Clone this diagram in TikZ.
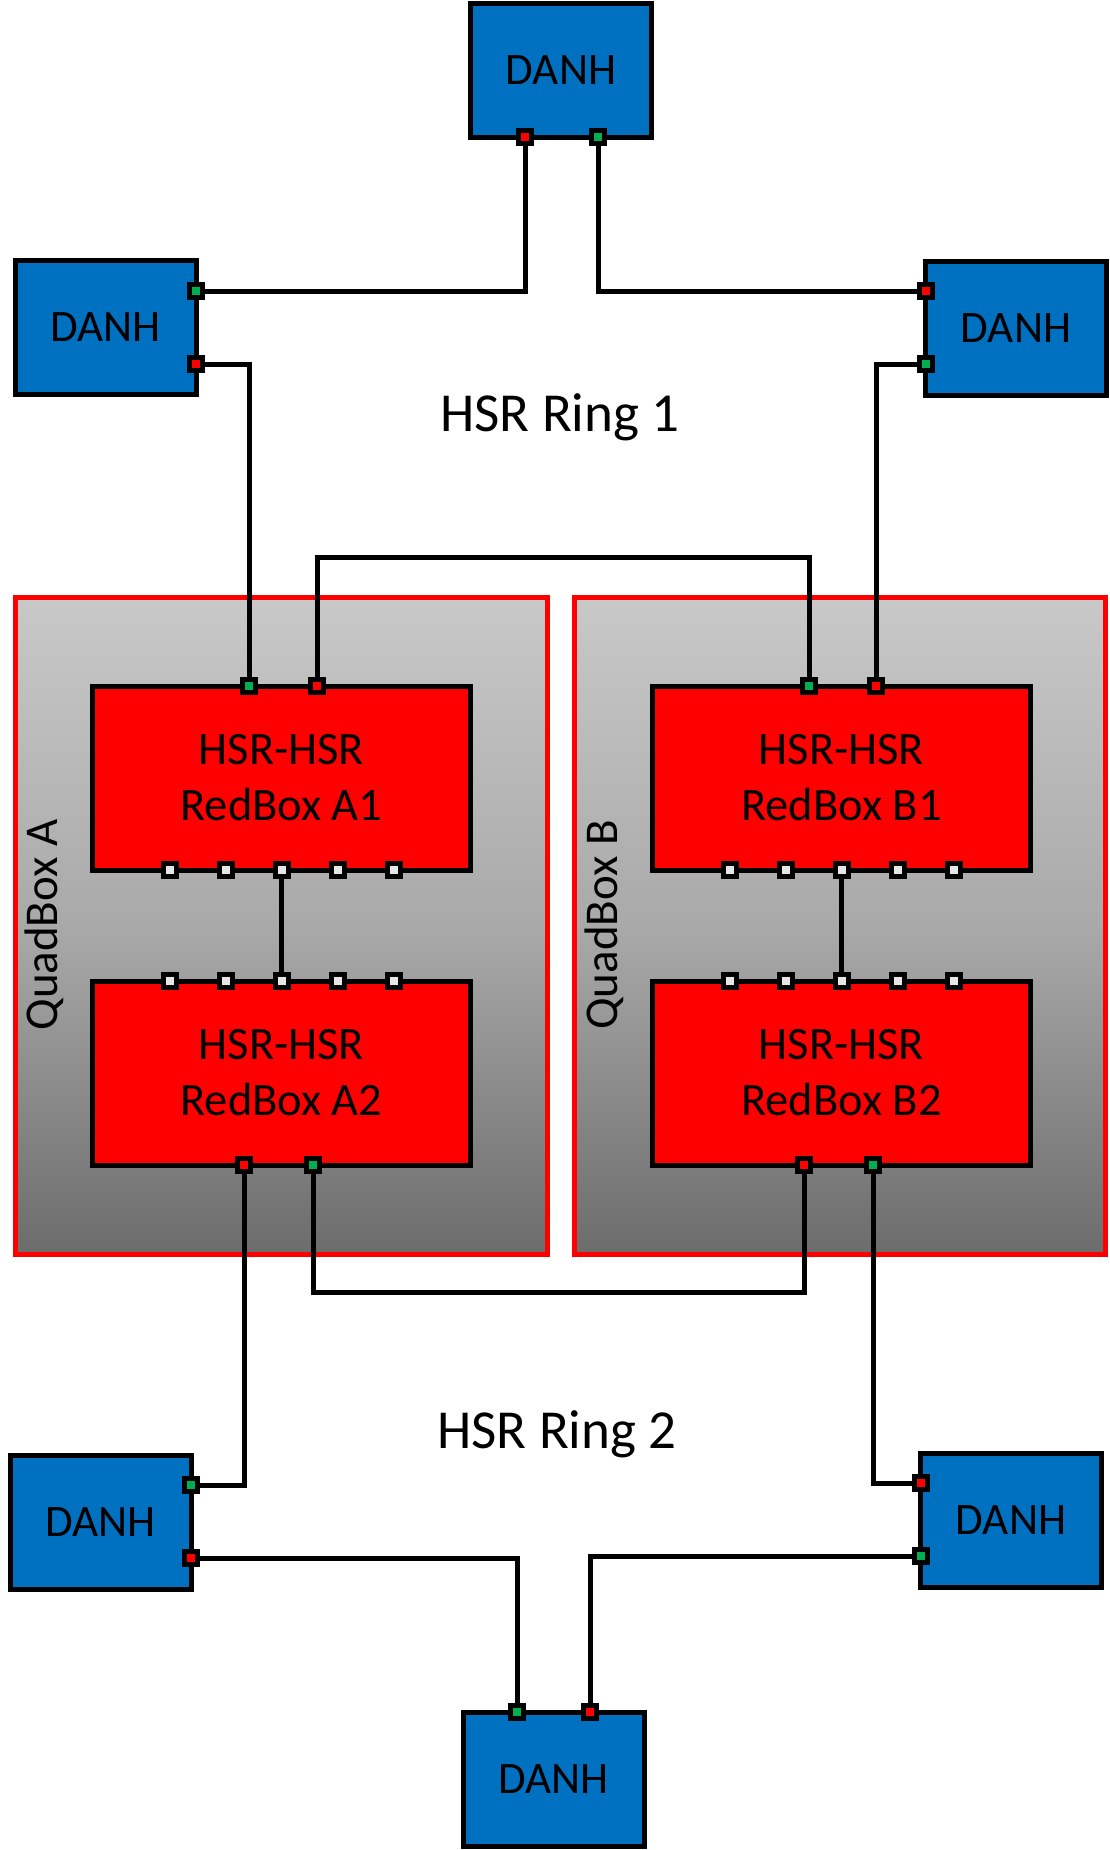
\documentclass[tikz,border=0pt]{standalone}
\usepackage{fontspec}
\setmainfont{Carlito}
\definecolor{danhblue}{HTML}{0070C0}
\definecolor{portgreen}{HTML}{00B050}
\definecolor{portwhite}{HTML}{E6E6E6}
\definecolor{quadtop}{HTML}{C8C8C8}
\definecolor{quadmid}{HTML}{A9A9A9}
\definecolor{quadbot}{HTML}{6C6C6C}
\pgfdeclarelayer{front}
\pgfsetlayers{main,front}
\begin{document}
\begin{tikzpicture}[x=1pt,y=-1pt,
  danh/.style={draw=black,line width=5pt,fill=danhblue,minimum width=181pt,minimum height=134pt,inner sep=0pt,font=\fontsize{45}{54}\selectfont},
  redbox/.style={draw=black,line width=5pt,fill=red,minimum width=378pt,minimum height=184pt,inner sep=0pt,align=center,font=\fontsize{46.5}{56}\selectfont},
  quad/.style={draw=red,line width=5pt,top color=quadtop,bottom color=quadbot,middle color=quadmid,minimum height=657pt,inner sep=0pt},
  port/.style={draw=black,line width=5pt,minimum size=13pt,inner sep=0pt,outer sep=0pt},
  rp/.style={port,fill=red},
  gp/.style={port,fill=portgreen},
  wp/.style={port,fill=portwhite},
  wire/.style={draw=black,line width=5pt},
  qlbl/.style={font=\fontsize{47}{56}\selectfont,rotate=90,inner sep=0pt},
  ring/.style={font=\fontsize{55}{66}\selectfont,inner sep=0pt,anchor=base}]
\useasboundingbox (0,0) rectangle (1110,1850);
% QuadBoxes
\node[quad,minimum width=532pt] (qa) at (281.5,926) {};
\node[quad,minimum width=531pt] (qb) at (840,926) {};
\node[qlbl] (qalbl) at (44,925) {QuadBox A};
\node[qlbl] (qblbl) at (604,925) {QuadBox B};
% DANH nodes
\node[danh] (d1) at (561,70) {DANH};
\node[danh] (d2) at (105.5,327.5) {DANH};
\node[danh] (d3) at (1016,328) {DANH};
\node[danh] (d4) at (100.5,1522.5) {DANH};
\node[danh] (d5) at (1011,1520) {DANH};
\node[danh] (d6) at (553.5,1779) {DANH};
% RedBoxes
\node[redbox] (a1) at (281.5,778) {HSR-HSR\\RedBox A1};
\node[redbox] (a2) at (281.5,1073) {HSR-HSR\\RedBox A2};
\node[redbox] (b1) at (841.5,778) {HSR-HSR\\RedBox B1};
\node[redbox] (b2) at (841.5,1073) {HSR-HSR\\RedBox B2};
% ring labels
\node[ring] (r1) at (560,431) {HSR Ring 1};
\node[ring] (r2) at (557,1448) {HSR Ring 2};
% ports
\begin{pgfonlayer}{front}
\node[rp] (d1r) at (525,137) {};
\node[gp] (d1g) at (598,137) {};
\node[gp] (d2g) at (196,291) {};
\node[rp] (d2r) at (196,364) {};
\node[rp] (d3r) at (925.5,291) {};
\node[gp] (d3g) at (925.5,364) {};
\node[gp] (d4g) at (191,1485) {};
\node[rp] (d4r) at (191,1558) {};
\node[rp] (d5r) at (920.5,1483) {};
\node[gp] (d5g) at (920.5,1556) {};
\node[gp] (d6g) at (517,1712) {};
\node[rp] (d6r) at (590,1712) {};
\node[gp] (a1g) at (249,686) {};
\node[rp] (a1r) at (317,686) {};
\node[gp] (b1g) at (809,686) {};
\node[rp] (b1r) at (876,686) {};
\node[rp] (a2r) at (244,1165) {};
\node[gp] (a2g) at (313,1165) {};
\node[rp] (b2r) at (804,1165) {};
\node[gp] (b2g) at (873,1165) {};
\foreach \i/\dx in {1/-112,2/-56,3/0,4/56,5/112}{
  \node[wp] (a1w\i) at (281.5+\dx,870) {};
  \node[wp] (a2w\i) at (281.5+\dx,981) {};
  \node[wp] (b1w\i) at (841.5+\dx,870) {};
  \node[wp] (b2w\i) at (841.5+\dx,981) {};
}
\end{pgfonlayer}
\coordinate (topbar) at (0,557);
\coordinate (botbar) at (0,1292);
% wires
\draw[wire] (d1r) |- (d2g);
\draw[wire] (d1g) |- (d3r);
\draw[wire] (d2r) -| (a1g);
\draw[wire] (d3g) -| (b1r);
\draw[wire] (a1r) -- (a1r |- topbar) -| (b1g);
\draw[wire] (a1w3) -- (a2w3);
\draw[wire] (b1w3) -- (b2w3);
\draw[wire] (a2g) -- (a2g |- botbar) -| (b2r);
\draw[wire] (a2r) |- (d4g);
\draw[wire] (b2g) |- (d5r);
\draw[wire] (d4r) -| (d6g);
\draw[wire] (d5g) -| (d6r);
\end{tikzpicture}
\end{document}
